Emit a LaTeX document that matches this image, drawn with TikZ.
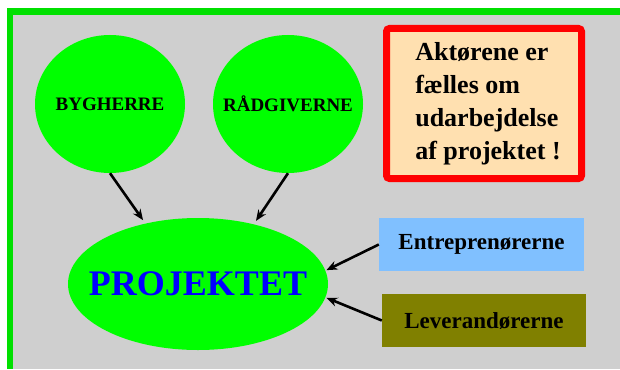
\documentclass[tikz,border=0pt]{standalone}
\usepackage{fontspec}
\setmainfont{Liberation Serif}
\usepackage{xcolor}
\usetikzlibrary{shapes.geometric,arrows.meta}

\definecolor{framegreen}{HTML}{00E000}
\definecolor{bggrey}{HTML}{CFCFCF}
\definecolor{actgreen}{HTML}{00FF00}
\definecolor{peach}{HTML}{FFE0B0}
\definecolor{skyblue}{HTML}{80C0FF}
\definecolor{olive}{HTML}{808000}

\begin{document}
\begin{tikzpicture}[x=1pt, y=-1pt,
    blob/.style={ellipse, fill=actgreen, inner sep=0pt},
    actorname/.style={font=\fontsize{19}{22}\selectfont\bfseries},
    party/.style={rectangle, inner sep=0pt, minimum width=205pt, minimum height=53pt,
                  font=\fontsize{23}{26}\selectfont\bfseries},
    arr/.style={-{Stealth[length=11pt,width=9pt]}, line width=2.6pt, shorten >=1pt}]
    \useasboundingbox (0,0) rectangle (620,369);

    % === BACKGROUND and frame (top and left only) ===
    \fill[bggrey] (13,15) rectangle (620,369);
    \fill[framegreen] (7,8) rectangle (620,15);
    \fill[framegreen] (7,8) rectangle (13,369);

    % === ACTORS ===
    \node[blob, minimum width=150pt, minimum height=138pt] (byg) at (110,104) {};
    \node[actorname] (bygtxt) at (byg.center) {BYGHERRE};
    \node[blob, minimum width=150pt, minimum height=138pt] (rad) at (288,104) {};
    \node[actorname] (radtxt) at (rad.center) {RÅDGIVERNE};
    \node[blob, minimum width=260pt, minimum height=132pt] (proj) at (198,284) {};
    \node[text=blue, font=\fontsize{36}{40}\selectfont\bfseries] (projtxt) at (proj.center) {PROJEKTET};

    % Note box
    \node[draw=red, line width=7pt, rounded corners=3pt, fill=peach, inner sep=0pt,
          minimum width=195pt, minimum height=150pt] (note) at (484,103.5) {};
    \node[align=left, font=\fontsize{26}{33}\selectfont\bfseries] (notetxt) at ([xshift=4pt]note.center)
          {Aktørene er\\fælles om\\udarbejdelse\\af projektet !};

    % Other parties
    \node[party, fill=skyblue] (ent) at (481.5,244.5) {Entreprenørerne};
    \node[party, fill=olive, minimum width=204pt] (lev) at (484,320.5) {Leverandørerne};

    % === ARROWS into the project ===
    \draw[arr, shorten >=4pt] (byg.south) -- (proj.131);
    \draw[arr, shorten >=4pt] (rad.south) -- (proj.47);
    \draw[arr] (ent.west) -- (proj.6);
    \draw[arr] (lev.west) -- (proj.-6);
\end{tikzpicture}
\end{document}
